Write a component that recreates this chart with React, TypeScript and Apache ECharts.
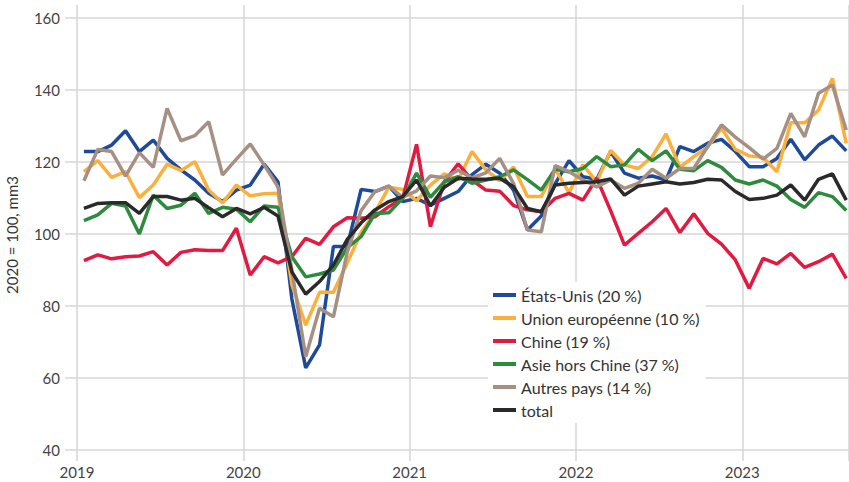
import React, { useEffect, useRef } from "react";
import * as echarts from "echarts";

const yearTicks = ["2019", "2020", "2021", "2022", "2023"];

const etatsUnis = [122.9,122.9,124.7,128.7,122.9,126.1,121,117.8,115,111.3,
109,112.2,113.6,119.4,114.5,82,62.8,69.2,96.5,96.5,
112.4,111.8,113.3,109,109.9,108,109.9,111.8,116.5,119.4,
116.9,112.2,101.1,105,114,120.4,115.9,115.2,122.9,116.9,
115.5,116.1,115,124.3,122.9,125.2,126.3,122.9,118.7,118.7,
121,126.3,120.6,124.7,127.2,123.1];

const unionEuropeenne = [117.3,120.4,115.7,117.3,110.1,113.6,119.4,117.6,120.1,112.2,
108.6,113.6,110.6,111.2,111.3,86,74.7,83.8,83.8,92,
100.5,106,113,112.4,109.2,113.6,116.7,115,122.9,117.8,
114.8,118.6,110.4,110.4,118,111.5,119.2,114.5,123.2,119.2,
118.2,121.5,127.8,118.5,121.5,124.1,129.4,123.5,121.7,121.3,
117.3,130.9,130.9,134.4,143.2,125.2];

const chine = [92.6,94.2,93.1,93.7,93.9,95.1,91.4,94.9,95.6,95.4,
95.4,101.6,88.6,93.7,92,93.7,98.8,97.1,102,104.5,
104.4,104.8,107.6,109.9,124.9,102,114.5,119.5,115,112.2,
111.9,107.9,106.7,106.2,109.9,111.3,109.4,115.5,106.5,96.9,
100.2,103.4,107.1,100.4,105.6,100.2,97.2,92.8,84.9,93.2,
91.7,94.6,90.7,92.3,94.4,87.7];

const asieHorsChine = [103.7,105.3,108.5,107.8,100,110.8,107.1,108,111.3,105.7,
107.4,106.9,103.4,107.8,107.4,93.7,88.1,88.9,90,96.2,
99.3,105.7,105.9,109.9,116.9,110.2,114.5,115.9,114.1,115,
115.9,117.8,115.1,112.2,118,117.3,118.2,121.5,118.7,119.2,
123.5,120.4,123.1,118,117.6,120.4,118.5,115,113.9,115,
113.3,109.6,107.4,111.5,110.4,106.5];

const autresPays = [114.8,123.5,122.9,116.1,122.6,118.5,134.9,125.9,127.3,131.2,
116.4,120.8,125,119.2,113.1,90,65.9,79.4,77,95,
106.5,111.8,113.3,110.2,112,116.1,115.6,117.7,115.6,117,
121,114,101.1,100.6,119,117.3,115,113.1,115,112.7,
114.1,118,115.5,118.2,118.2,124.3,130.3,126.9,124,120.8,
123.8,133.5,127,139.1,141.4,128.9];

const total = [107.1,108.5,108.7,108.7,105.7,110.4,110.4,109.4,109.9,107.3,
104.8,107.1,105.6,107.4,105,89.5,83.3,86.8,91.4,98.5,
103.1,106.7,109,110.4,115,107.8,113,115.5,115.3,115.2,
115.5,113.1,107.1,106.2,113.6,114.1,114.3,114.5,115.3,110.8,
113.3,113.9,114.5,113.9,114.3,115.2,115,111.8,109.6,109.9,
110.8,113.6,109.4,115.2,116.7,109.4];

const seriesNames = [
  "États-Unis (20 %)",
  "Union européenne (10 %)",
  "Chine (19 %)",
  "Asie hors Chine (37 %)",
  "Autres pays (14 %)",
  "total",
];
const seriesColors = ["#1f4a99", "#fbb03b", "#e01a40", "#2e8b3e", "#a69083", "#2a2a2a"];
const seriesData = [etatsUnis, unionEuropeenne, chine, asieHorsChine, autresPays, total];

const FONT = "Lato, 'Open Sans', sans-serif";
const GRID_COLOR = "#d6d6d6";

export default function App() {
  const ref = useRef<HTMLDivElement>(null);
  useEffect(() => {
    if (!ref.current) return;
    const chart = echarts.init(ref.current, undefined, { renderer: "svg" });
    const option: any = {
      animation: false,
      backgroundColor: "#fff",
      textStyle: { fontFamily: FONT },
      grid: [
        { left: 65, right: 0, top: 18, bottom: 32, outerBoundsMode: "none", containLabel: false },
        { left: 77, right: 0, top: 5, bottom: 21, outerBoundsMode: "none", containLabel: false },
      ],
      xAxis: [
        { type: "value", gridIndex: 0, min: -0.866, max: 55.7, show: false },
        {
          type: "value",
          gridIndex: 1,
          min: 0,
          max: 55.7,
          interval: 12,
          axisLine: { show: false },
          axisTick: { show: false },
          splitLine: { show: true, lineStyle: { color: GRID_COLOR, width: 1.5 } },
          axisLabel: {
            margin: 3,
            fontSize: 15,
            color: "#444",
            fontFamily: FONT,
            showMaxLabel: false,
            formatter: (v: number) => (v % 12 === 0 ? yearTicks[v / 12] ?? "" : ""),
          },
        },
      ],
      yAxis: [
        {
          type: "value",
          gridIndex: 0,
          min: 40,
          max: 160,
          interval: 20,
          axisLine: { show: false },
          axisTick: { show: false },
          splitLine: { show: true, lineStyle: { color: GRID_COLOR, width: 1.5 } },
          axisLabel: { margin: 5, fontSize: 15, color: "#444", fontFamily: FONT },
        },
        { type: "value", gridIndex: 1, min: 0, max: 1, show: false },
      ],
      legend: {
        orient: "vertical",
        left: 488,
        top: 282,
        padding: [5, 6, 5, 5],
        backgroundColor: "#fff",
        icon: "rect",
        itemWidth: 23,
        itemHeight: 4,
        itemGap: 7,
        textStyle: { fontSize: 16, color: "#333", fontFamily: FONT },
        data: seriesNames,
      },
      graphic: [
        {
          type: "text",
          x: 12,
          y: 235,
          rotation: Math.PI / 2,
          style: {
            text: "2020 = 100, mm3",
            fontSize: 15,
            fill: "#333",
            fontFamily: FONT,
            textAlign: "center",
            textVerticalAlign: "middle",
          },
        },
      ],
      series: seriesNames.map((name, k) => ({
        name,
        type: "line",
        xAxisIndex: 0,
        yAxisIndex: 0,
        symbol: "none",
        color: seriesColors[k],
        lineStyle: { width: 3.5, color: seriesColors[k] },
        data: seriesData[k].map((v, i) => [i + 0.5, v]),
      })),
    };
    chart.setOption(option);
    return () => chart.dispose();
  }, []);
  return (
    <div
      ref={ref}
      style={{ position: "absolute", left: 0, top: 0, width: 849, height: 482 }}
    />
  );
}
